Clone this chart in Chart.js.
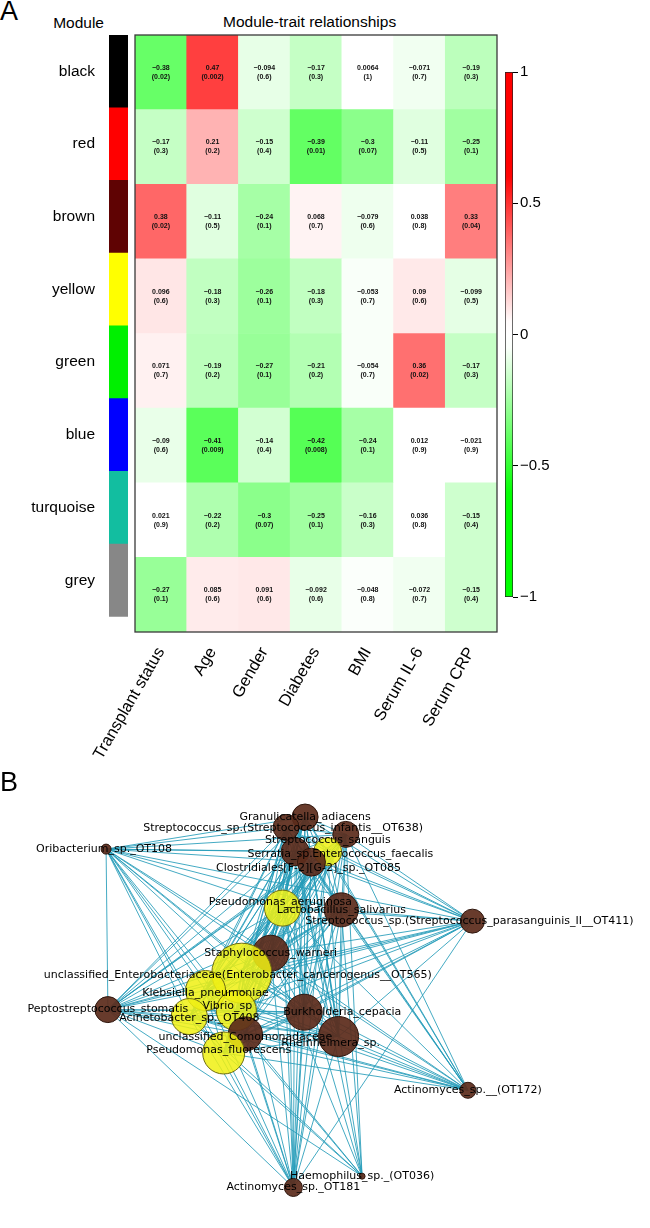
<!DOCTYPE html>
<html>
<head>
<meta charset="utf-8">
<script src="https://cdn.jsdelivr.net/npm/chart.js@4.4.1/dist/chart.umd.min.js"></script>
<style>
html, body { margin: 0; padding: 0; background: #fff; }
#page { position: relative; width: 650px; height: 1228px; overflow: hidden; font-family: "Liberation Sans", Arial, sans-serif; color: #000; }
canvas { position: absolute; }
.txt { position: absolute; white-space: nowrap; line-height: 1; }
.panel { font-size: 27px; }
</style>
</head>
<body>
<div id="page">
  <div class="txt panel" style="left:0; top:-2px">A</div>
  <div class="txt" style="right:546px; top:15px; font-size:15.5px">Module</div>
  <div class="txt" style="left:223px; top:14px; font-size:15.5px">Module-trait relationships</div>
  <canvas id="modBar" width="128" height="632" style="left:0; top:0"></canvas>
  <canvas id="heat" width="650" height="800" style="left:0; top:0"></canvas>
  <canvas id="scaleBar" width="170" height="610" style="left:480px; top:0"></canvas>
  <div class="txt panel" style="left:0; top:769px">B</div>
  <canvas id="net" width="650" height="468" style="left:0; top:760px"></canvas>
</div>
<script>
// ---- panel A : module-trait correlations ----
const modules = ["black", "red", "brown", "yellow", "green", "blue", "turquoise", "grey"]
const moduleColors = ["#000000", "#ff0000", "#5f0303", "#ffff00", "#00f000", "#0000ff", "#12bea0", "#878787"]
const traits = ["Transplant status", "Age", "Gender", "Diabetes", "BMI", "Serum IL-6", "Serum CRP"]

// correlation (r) per module row, in trait order
const corBlack = [-0.38, 0.47, -0.094, -0.17, 0.0064, -0.071, -0.19]
const corRed = [-0.17, 0.21, -0.15, -0.39, -0.3, -0.11, -0.25]
const corBrown = [0.38, -0.11, -0.24, 0.068, -0.079, 0.038, 0.33]
const corYellow = [0.096, -0.18, -0.26, -0.18, -0.053, 0.09, -0.099]
const corGreen = [0.071, -0.19, -0.27, -0.21, -0.054, 0.36, -0.17]
const corBlue = [-0.09, -0.41, -0.14, -0.42, -0.24, 0.012, -0.021]
const corTurquoise = [0.021, -0.22, -0.3, -0.25, -0.16, 0.036, -0.15]
const corGrey = [-0.27, 0.085, 0.091, -0.092, -0.048, -0.072, -0.15]

// p-values per module row
const pBlack = [0.02, 0.002, 0.6, 0.3, 1, 0.7, 0.3]
const pRed = [0.3, 0.2, 0.4, 0.01, 0.07, 0.5, 0.1]
const pBrown = [0.02, 0.5, 0.1, 0.7, 0.6, 0.8, 0.04]
const pYellow = [0.6, 0.3, 0.1, 0.3, 0.7, 0.6, 0.5]
const pGreen = [0.7, 0.2, 0.1, 0.2, 0.7, 0.02, 0.3]
const pBlue = [0.6, 0.009, 0.4, 0.008, 0.1, 0.9, 0.9]
const pTurquoise = [0.9, 0.2, 0.07, 0.1, 0.3, 0.8, 0.4]
const pGrey = [0.1, 0.6, 0.6, 0.6, 0.8, 0.7, 0.4]

const colorTicks = [-1, -0.5, 0, 0.5, 1]

// ---- panel B : co-occurrence network ----
const nodeNames = [
  "Granulicatella_adiacens",
  "Streptococcus_sp.(Streptococcus_infantis__OT638)",
  "Streptococcus_sanguis",
  "Serratia_sp.",
  "Enterococcus_faecalis",
  "Clostridiales[F-2][G-2]_sp._OT085",
  "Oribacterium_sp._OT108",
  "Pseudomonas_aeruginosa",
  "Lactobacillus_salivarius",
  "Streptococcus_sp.(Streptococcus_parasanguinis_II__OT411)",
  "Staphylococcus_warneri",
  "unclassified_Enterobacteriaceae(Enterobacter_cancerogenus__OT565)",
  "Klebsiella_pneumoniae",
  "Peptostreptococcus_stomatis",
  "Vibrio_sp",
  "Acinetobacter_sp._OT408",
  "Burkholderia_cepacia",
  "unclassified_Comomonadaceae",
  "Rheinheimera_sp.",
  "Pseudomonas_fluorescens",
  "Actinomyces_sp.__(OT172)",
  "Haemophilus_sp._(OT036)",
  "Actinomyces_sp._OT181"
]
const nodeModule = ["brown", "brown", "brown", "brown", "yellow", "brown", "brown", "yellow", "brown", "brown", "brown",
  "yellow", "yellow", "brown", "yellow", "yellow", "brown", "brown", "brown", "yellow", "brown", "brown", "brown"]
// layout coordinates and node size (~connectivity)
const nodeX = [303, 282, 348, 292, 328, 310, 83, 278, 343, 488, 265, 233, 193, 85, 227, 175, 302, 237, 340, 213, 483, 366, 290]
const nodeY = [30, 42, 50, 70, 70, 82, 67, 135, 137, 150, 187, 210, 230, 252, 253, 260, 255, 280, 283, 302, 345, 444, 457]
const nodeSize = [13, 13, 13, 14, 14, 14, 5, 18, 17, 12, 18, 30, 20, 13, 20, 18, 18, 17, 20, 21, 8, 3, 9]
// edges: for each node, the higher-numbered nodes it is linked to
const nodeLinks = [
  [1, 2, 3, 4, 5, 6, 7, 8, 9, 10, 11, 12, 13, 14, 15, 16, 17, 18, 19, 20, 22],
  [2, 3, 4, 5, 6, 7, 8, 9, 10, 11, 12, 13, 14, 15, 16, 17, 18, 19, 20, 22],
  [3, 4, 5, 6, 7, 8, 9, 10, 11, 12, 13, 14, 15, 16, 17, 18, 19, 20, 21, 22],
  [4, 5, 6, 7, 8, 9, 10, 11, 12, 13, 14, 15, 16, 17, 18, 19, 21, 22],
  [5, 6, 7, 8, 9, 10, 11, 12, 13, 14, 15, 16, 17, 18, 19, 20, 22],
  [6, 7, 8, 9, 10, 11, 12, 13, 14, 15, 16, 17, 18, 19, 20, 21, 22],
  [7, 8, 9, 10, 11, 12, 13, 14, 15, 16, 17, 18, 19, 20, 22],
  [8, 9, 10, 11, 12, 13, 14, 15, 16, 17, 18, 19, 20, 21, 22],
  [9, 10, 11, 12, 13, 14, 15, 16, 17, 18, 19, 20, 21, 22],
  [10, 11, 12, 13, 14, 15, 16, 17, 18, 19, 22],
  [11, 12, 13, 14, 15, 16, 17, 18, 19, 20, 21, 22],
  [12, 13, 14, 15, 16, 17, 18, 19, 20, 22],
  [13, 14, 15, 16, 17, 18, 19, 20, 21, 22],
  [14, 15, 16, 17, 18, 19, 20, 21, 22],
  [15, 16, 17, 18, 19, 20, 22],
  [16, 17, 18, 19, 20, 21, 22],
  [17, 18, 19, 20, 22],
  [18, 19, 20, 21, 22],
  [19, 20, 22],
  [20, 21, 22],
  [],
  [],
  []
]

// label nudges (px) where the label is not centred on its node
const labelNudge = { 1: [-3, 1], 2: [-18, 6], 3: [-15, 2], 4: [45, 2], 5: [-3, 6], 6: [-2, 0], 7: [-2, -6],
  9: [-3, 0], 11: [-4, 2], 12: [0, 3], 14: [-9, -4], 15: [0, 2], 16: [38, 0], 17: [0, 3], 18: [-8, 7], 19: [-5, -3] }

const fontA = "'Liberation Sans', Arial, sans-serif"
const fontB = "'DejaVu Sans', Verdana, sans-serif"

// white -> red / white -> green ramp, like WGCNA greenWhiteRed
function corColor(v) {
  const f = Math.min(1, Math.max(0, (Math.abs(v) - 0.04) * 1.75))
  const c = Math.round(255 * (1 - f))
  return v >= 0 ? `rgb(255,${c},${c})` : `rgb(${c},255,${c})`
}
const fmt = v => String(v).replace("-", "\u2212")

const noPlugins = { legend: { display: false }, tooltip: { enabled: false } }

// module colour column with module names
new Chart(document.getElementById("modBar"), {
  type: "bar",
  data: {
    labels: modules,
    datasets: [{ data: modules.map(() => 1), backgroundColor: moduleColors, borderWidth: 0, barPercentage: 1, categoryPercentage: 1 }]
  },
  options: {
    indexAxis: "y",
    responsive: false,
    animation: false,
    layout: { padding: { top: 35, right: 0, bottom: 0, left: 0 } },
    plugins: noPlugins,
    scales: {
      x: { display: false, min: 0, max: 1 },
      y: {
        grid: { display: false },
        border: { display: false },
        ticks: { color: "#000", font: { size: 15.5, family: fontA }, padding: 6 },
        afterFit: a => { a.width = 109 }
      }
    }
  }
})

// heatmap: one stacked dataset per module row (bottom row first)
const corRows = [corBlack, corRed, corBrown, corYellow, corGreen, corBlue, corTurquoise, corGrey]
const pRows = [pBlack, pRed, pBrown, pYellow, pGreen, pBlue, pTurquoise, pGrey]
const heatSets = modules.map((m, i) => ({
  label: m,
  data: traits.map(() => 1),
  corr: corRows[i],
  pval: pRows[i],
  backgroundColor: corRows[i].map(corColor),
  borderWidth: 0,
  barPercentage: 1,
  categoryPercentage: 1
})).reverse()

const cellText = {
  id: "cellText",
  afterDatasetsDraw(chart) {
    const ctx = chart.ctx
    ctx.save()
    ctx.font = "bold 7px " + fontA
    ctx.fillStyle = "#111"
    ctx.textAlign = "center"
    ctx.textBaseline = "middle"
    chart.data.datasets.forEach((ds, i) => {
      chart.getDatasetMeta(i).data.forEach((bar, j) => {
        const p = bar.getCenterPoint()
        ctx.fillText(fmt(ds.corr[j]), p.x, p.y - 4.5)
        ctx.fillText("(" + fmt(ds.pval[j]) + ")", p.x, p.y + 4.5)
      })
    })
    const a = chart.chartArea
    ctx.strokeStyle = "#3a3a3a"
    ctx.lineWidth = 1.3
    ctx.strokeRect(a.left, a.top, a.right - a.left, a.bottom - a.top)
    ctx.restore()
  }
}

new Chart(document.getElementById("heat"), {
  type: "bar",
  data: { labels: traits, datasets: heatSets },
  options: {
    responsive: false,
    animation: false,
    layout: { padding: { left: 135, right: 153, top: 35, bottom: 0 } },
    plugins: noPlugins,
    scales: {
      x: {
        stacked: true,
        grid: { display: false },
        border: { display: false },
        ticks: { color: "#000", font: { size: 16.5, family: fontA }, minRotation: 60, maxRotation: 60, padding: 4 },
        afterFit: a => { a.height = 168 }
      },
      y: { stacked: true, display: false, min: 0, max: modules.length }
    }
  },
  plugins: [cellText]
})

// colour key
function rampGradient(chart) {
  const area = chart.chartArea
  if (!area) return "#fff"
  const g = chart.ctx.createLinearGradient(0, area.bottom, 0, area.top)
  for (let k = 0; k <= 40; k++) g.addColorStop(k / 40, corColor(-1 + k / 20))
  return g
}

new Chart(document.getElementById("scaleBar"), {
  type: "bar",
  data: {
    labels: [""],
    datasets: [{
      data: [[colorTicks[0], colorTicks[colorTicks.length - 1]]],
      backgroundColor: c => rampGradient(c.chart),
      borderColor: "#222",
      borderWidth: 1,
      borderSkipped: false,
      barPercentage: 1,
      categoryPercentage: 1
    }]
  },
  options: {
    responsive: false,
    animation: false,
    layout: { padding: { left: 25, top: 72, bottom: 13, right: 0 } },
    plugins: noPlugins,
    scales: {
      x: { display: false },
      y: {
        position: "right",
        min: -1,
        max: 1,
        afterBuildTicks: a => { a.ticks = colorTicks.map(v => ({ value: v })) },
        ticks: { color: "#000", font: { size: 15, family: fontA }, padding: 2, callback: v => fmt(v) },
        grid: { drawOnChartArea: false, color: "#000", tickColor: "#000", tickLength: 5 },
        border: { display: false },
        afterFit: a => { a.width = 137 }
      }
    }
  }
})

// ---- network ----
const nodePoints = nodeNames.map((n, i) => ({ x: nodeX[i], y: nodeY[i], r: nodeSize[i] }))
const edgePoints = []
nodeLinks.forEach((list, i) => list.forEach(j => {
  edgePoints.push({ x: nodeX[i], y: nodeY[i] }, { x: nodeX[j], y: nodeY[j] }, { x: nodeX[j], y: null })
}))

const nodeLabels = {
  id: "nodeLabels",
  afterDatasetsDraw(chart) {
    const ctx = chart.ctx
    ctx.save()
    ctx.font = "11px " + fontB
    ctx.fillStyle = "#000"
    ctx.textAlign = "center"
    ctx.textBaseline = "middle"
    chart.getDatasetMeta(0).data.forEach((pt, i) => {
      const s = labelNudge[i] || [0, 0]
      ctx.fillText(nodeNames[i], pt.x + s[0], pt.y + s[1])
    })
    ctx.restore()
  }
}

new Chart(document.getElementById("net"), {
  type: "bubble",
  data: {
    datasets: [
      {
        type: "bubble",
        data: nodePoints,
        order: 0,
        backgroundColor: nodeModule.map(m => m === "yellow" ? "rgba(240,240,20,0.86)" : "rgba(92,44,28,0.93)"),
        borderColor: nodeModule.map(m => m === "yellow" ? "#6e6c10" : "#2e150c"),
        borderWidth: 1
      },
      {
        type: "line",
        data: edgePoints,
        order: 1,
        borderColor: "rgba(35,155,185,0.85)",
        borderWidth: 1,
        pointRadius: 0,
        spanGaps: false,
        tension: 0
      }
    ]
  },
  options: {
    responsive: false,
    animation: false,
    layout: { padding: 0 },
    plugins: noPlugins,
    scales: {
      x: { type: "linear", display: false, min: 0, max: 650 },
      y: { type: "linear", display: false, min: 0, max: 468, reverse: true }
    }
  },
  plugins: [nodeLabels]
})
</script>
</body>
</html>
